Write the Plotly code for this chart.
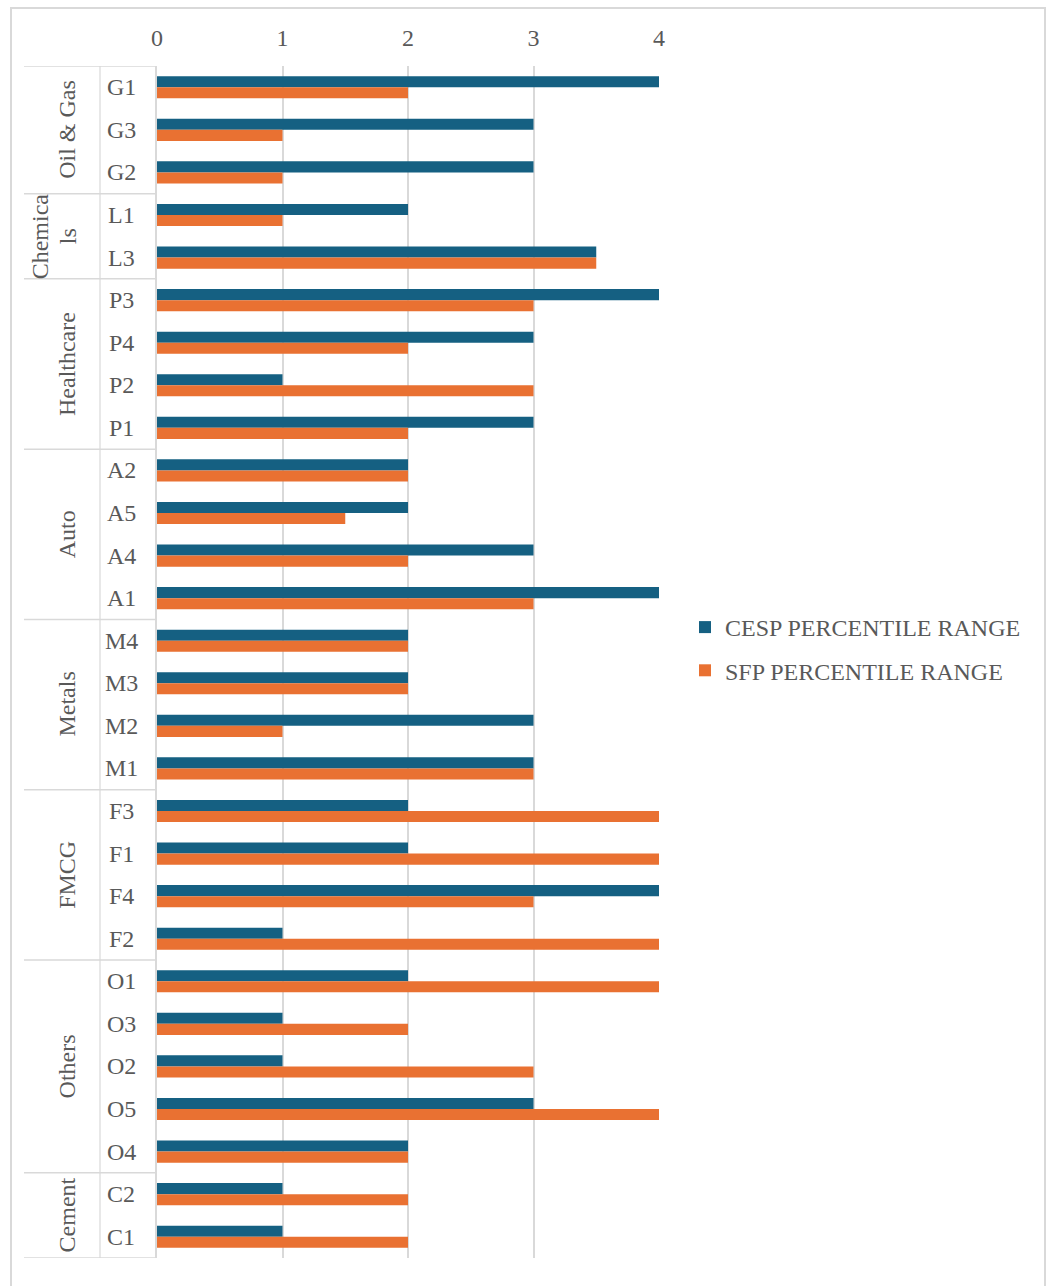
import plotly.graph_objects as go

# Companies, top to bottom, with their sector groups
companies = ["G1", "G3", "G2", "L1", "L3", "P3", "P4", "P2", "P1",
             "A2", "A5", "A4", "A1", "M4", "M3", "M2", "M1",
             "F3", "F1", "F4", "F2", "O1", "O3", "O2", "O5", "O4", "C2", "C1"]
sectors = ["Oil & Gas", "Chemica<br>ls", "Healthcare", "Auto", "Metals",
           "FMCG", "Others", "Cement"]
sector_sizes = [3, 2, 4, 4, 4, 4, 5, 2]

cesp = [4, 3, 3, 2, 3.5, 4, 3, 1, 3, 2, 2, 3, 4, 2, 2, 3, 3,
        2, 2, 4, 1, 2, 1, 1, 3, 2, 1, 1]
sfp = [2, 1, 1, 1, 3.5, 3, 2, 3, 2, 2, 1.5, 2, 3, 2, 2, 1, 3,
       4, 4, 3, 4, 4, 2, 3, 4, 2, 2, 2]

x_ticks = [0, 1, 2, 3, 4]

BLUE = "#156082"
ORANGE = "#E97132"
TEXT = "#595959"
LINE = "#D9D9D9"
FONT = "Liberation Serif, Times New Roman, serif"
FS = 24

W, H = 1046, 1286
L, R, T, B = 157, 387, 66, 28
pw = W - L - R
ph = H - T - B


def px_x(px):
    return (px - L) / pw


def px_y(py):
    return (H - B - py) / ph


fig = go.Figure()
fig.add_trace(go.Bar(y=companies, x=cesp, orientation="h", name="CESP PERCENTILE RANGE",
                     marker=dict(color=BLUE, line=dict(width=0)), legendgroup="a"))
fig.add_trace(go.Bar(y=companies, x=sfp, orientation="h", name="SFP PERCENTILE RANGE",
                     marker=dict(color=ORANGE, line=dict(width=0)), legendgroup="b"))

shapes = []
annotations = []

# Company labels
for c in companies:
    annotations.append(dict(x=px_x(121), y=c, xref="paper", yref="y", text=c,
                            showarrow=False, xanchor="center", yanchor="middle",
                            font=dict(family=FONT, size=FS, color=TEXT)))

# Sector labels (wrapped names are set line by line) and separators
n = len(companies)
start = 0
bounds = [-0.5]
for name, size in zip(sectors, sector_sizes):
    mid = start + (size - 1) / 2
    lines = name.split("<br>")
    if len(lines) == 1:
        xs = [67]
    else:
        gap = 28
        c0 = 54 - gap * (len(lines) - 1) / 2
        xs = [c0 + i * gap for i in range(len(lines))]
    for line_text, xp in zip(lines, xs):
        annotations.append(dict(x=px_x(xp), y=mid, xref="paper", yref="y",
                                text=line_text, showarrow=False, textangle=-90,
                                xanchor="center", yanchor="middle",
                                font=dict(family=FONT, size=FS, color=TEXT)))
    start += size
    bounds.append(start - 0.5)

for b in bounds:
    shapes.append(dict(type="line", xref="paper", yref="y", x0=px_x(24), x1=0,
                       y0=b, y1=b, line=dict(color=LINE, width=1.5)))
shapes.append(dict(type="line", xref="paper", yref="y", x0=px_x(100), x1=px_x(100),
                   y0=-0.5, y1=n - 0.5, line=dict(color=LINE, width=1.2)))

# Chart frame
shapes.append(dict(type="rect", xref="paper", yref="paper", x0=px_x(11), x1=px_x(1045),
                   y0=px_y(1295), y1=px_y(8), line=dict(color=LINE, width=2),
                   fillcolor="rgba(0,0,0,0)", layer="below"))

fig.update_layout(
    width=W, height=H,
    margin=dict(l=L, r=R, t=T, b=B),
    paper_bgcolor="white", plot_bgcolor="white",
    barmode="group", bargap=0.48, bargroupgap=0,
    font=dict(family=FONT, size=FS, color=TEXT),
    xaxis=dict(side="top", range=[0, 4], tickvals=x_ticks, showgrid=True,
               gridcolor=LINE, gridwidth=1.5, zeroline=False, showline=False,
               ticks="", ticklabelstandoff=14,
               tickfont=dict(family=FONT, size=FS, color=TEXT)),
    yaxis=dict(type="category", categoryarray=companies, categoryorder="array",
               range=[n - 0.5, -0.5], showticklabels=False, showgrid=False,
               zeroline=False, showline=True, linecolor=LINE, linewidth=1.5,
               ticks=""),
    legend=dict(x=px_x(685), xanchor="left", y=px_y(605), yanchor="top",
                tracegroupgap=9, font=dict(family=FONT, size=FS, color=TEXT),
                bgcolor="rgba(0,0,0,0)"),
    shapes=shapes,
    annotations=annotations,
)

fig.write_html("out.html")
